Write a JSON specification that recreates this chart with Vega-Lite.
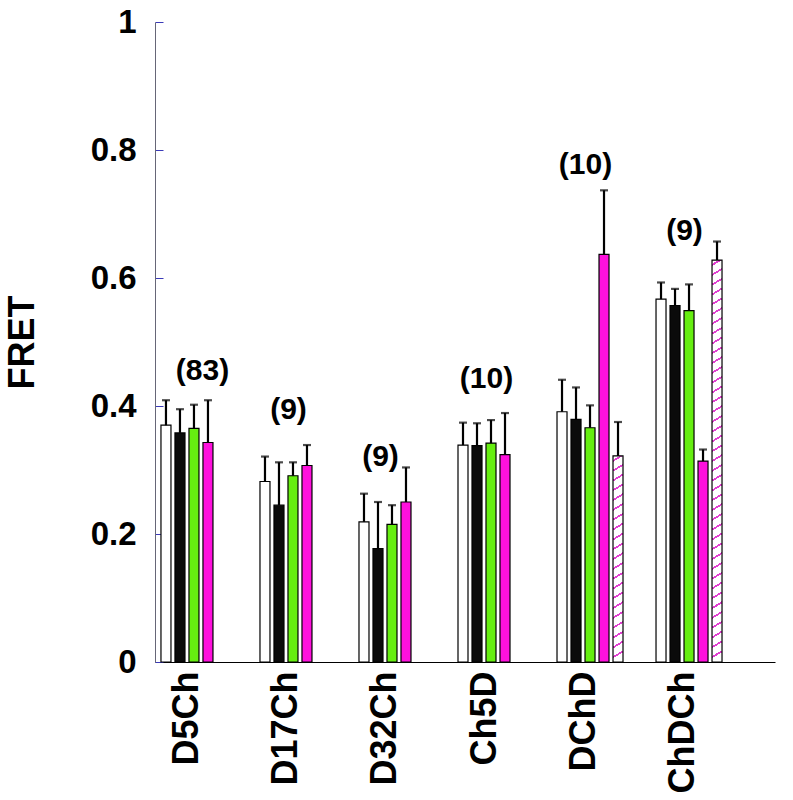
{
  "$schema": "https://vega.github.io/schema/vega-lite/v6.json",
  "width": 620,
  "height": 640,
  "autosize": {"type": "none"},
  "padding": {"left": 155, "top": 22, "right": 18, "bottom": 138},
  "background": "#ffffff",
  "config": {"view": {"stroke": null}, "font": "Liberation Sans"},
  "datasets": {
    "bars": [
      {"construct": "D5Ch", "series": "s1", "fret": 0.370, "upper": 0.409},
      {"construct": "D5Ch", "series": "s2", "fret": 0.358, "upper": 0.395},
      {"construct": "D5Ch", "series": "s3", "fret": 0.365, "upper": 0.402},
      {"construct": "D5Ch", "series": "s4", "fret": 0.343, "upper": 0.409},
      {"construct": "D17Ch", "series": "s1", "fret": 0.282, "upper": 0.321},
      {"construct": "D17Ch", "series": "s2", "fret": 0.245, "upper": 0.312},
      {"construct": "D17Ch", "series": "s3", "fret": 0.291, "upper": 0.312},
      {"construct": "D17Ch", "series": "s4", "fret": 0.307, "upper": 0.339},
      {"construct": "D32Ch", "series": "s1", "fret": 0.219, "upper": 0.263},
      {"construct": "D32Ch", "series": "s2", "fret": 0.177, "upper": 0.250},
      {"construct": "D32Ch", "series": "s3", "fret": 0.215, "upper": 0.245},
      {"construct": "D32Ch", "series": "s4", "fret": 0.250, "upper": 0.304},
      {"construct": "Ch5D", "series": "s1", "fret": 0.339, "upper": 0.374},
      {"construct": "Ch5D", "series": "s2", "fret": 0.338, "upper": 0.373},
      {"construct": "Ch5D", "series": "s3", "fret": 0.342, "upper": 0.378},
      {"construct": "Ch5D", "series": "s4", "fret": 0.324, "upper": 0.389},
      {"construct": "DChD", "series": "s1", "fret": 0.391, "upper": 0.441},
      {"construct": "DChD", "series": "s2", "fret": 0.379, "upper": 0.429},
      {"construct": "DChD", "series": "s3", "fret": 0.366, "upper": 0.401},
      {"construct": "DChD", "series": "s4", "fret": 0.637, "upper": 0.737},
      {"construct": "DChD", "series": "s5", "fret": 0.322, "upper": 0.375},
      {"construct": "ChDCh", "series": "s1", "fret": 0.567, "upper": 0.593},
      {"construct": "ChDCh", "series": "s2", "fret": 0.557, "upper": 0.583},
      {"construct": "ChDCh", "series": "s3", "fret": 0.549, "upper": 0.590},
      {"construct": "ChDCh", "series": "s4", "fret": 0.314, "upper": 0.332},
      {"construct": "ChDCh", "series": "s5", "fret": 0.628, "upper": 0.657}
    ],
    "counts": [
      {"construct": "D5Ch", "label": "(83)", "ypos": 0.455},
      {"construct": "D17Ch", "label": "(9)", "ypos": 0.394},
      {"construct": "D32Ch", "label": "(9)", "ypos": 0.320},
      {"construct": "Ch5D", "label": "(10)", "ypos": 0.442},
      {"construct": "DChD", "label": "(10)", "ypos": 0.777},
      {"construct": "ChDCh", "label": "(9)", "ypos": 0.673}
    ]
  },
  "encoding": {
    "x": {
      "field": "construct", "type": "nominal",
      "sort": ["D5Ch", "D17Ch", "D32Ch", "Ch5D", "DChD", "ChDCh"],
      "scale": {"domain": ["D5Ch", "D17Ch", "D32Ch", "Ch5D", "DChD", "ChDCh"], "paddingInner": 0, "paddingOuter": 0.131},
      "axis": {
        "title": null, "ticks": false, "labelAngle": -90, "labelFont": "Liberation Sans",
        "labelFontSize": 36, "labelFontWeight": "bold", "labelColor": "#000000",
        "labelPadding": 9, "labelOffset": -30, "domainColor": "#000000", "domainWidth": 1, "labelLimit": 0
      }
    }
  },
  "layer": [
    {
      "data": {"name": "bars"},
      "transform": [{"filter": "datum.series != 's5'"}],
      "mark": {"type": "bar", "stroke": "#000000", "strokeWidth": 1.2},
      "encoding": {
        "xOffset": {"field": "series", "type": "nominal", "scale": {"domain": ["s1", "s2", "s3", "s4", "s5"], "range": [-7, 59], "paddingInner": 0.2857, "paddingOuter": 0}},
        "y": {
          "field": "fret", "type": "quantitative",
          "scale": {"domain": [0, 1], "nice": false},
          "axis": {
            "values": [0, 0.2, 0.4, 0.6, 0.8, 1], "format": "~g", "grid": false,
            "tickSize": -8, "tickColor": "#3a3ab8", "tickWidth": 1,
            "domainColor": "#666677", "domainWidth": 1,
            "labelFont": "Liberation Sans", "labelFontSize": 33, "labelFontWeight": "bold", "labelColor": "#000000",
            "labelPadding": 27,
            "title": "FRET", "titleFont": "Liberation Sans", "titleFontSize": 36, "titleFontWeight": "bold", "titleColor": "#000000",
            "titlePadding": 49
          }
        },
        "fill": {"field": "series", "type": "nominal", "scale": {"domain": ["s1", "s2", "s3", "s4", "s5"], "range": ["#ffffff", "#0b0b0b", "#66ee11", "#ff11dd", "#ffffff"]}, "legend": null}
      }
    },
    {
      "data": {"name": "bars"},
      "transform": [{"filter": "datum.series == 's5' && datum.construct == 'DChD'"}],
      "mark": {"type": "bar", "stroke": "#000000", "strokeWidth": 1.2,
        "fill": {"gradient": "linear", "x1": 0, "y1": 0, "x2": 0.0291, "y2": 1, "stops": [
          {"offset": 0, "color": "#ffffff"},
          {"offset": 0.0190, "color": "#ffffff"}, {"offset": 0.0190, "color": "#e040d0"}, {"offset": 0.0286, "color": "#e040d0"}, {"offset": 0.0286, "color": "#ffffff"},
          {"offset": 0.0666, "color": "#ffffff"}, {"offset": 0.0666, "color": "#e040d0"}, {"offset": 0.0762, "color": "#e040d0"}, {"offset": 0.0762, "color": "#ffffff"},
          {"offset": 0.1142, "color": "#ffffff"}, {"offset": 0.1142, "color": "#e040d0"}, {"offset": 0.1238, "color": "#e040d0"}, {"offset": 0.1238, "color": "#ffffff"},
          {"offset": 0.1619, "color": "#ffffff"}, {"offset": 0.1619, "color": "#e040d0"}, {"offset": 0.1715, "color": "#e040d0"}, {"offset": 0.1715, "color": "#ffffff"},
          {"offset": 0.2095, "color": "#ffffff"}, {"offset": 0.2095, "color": "#e040d0"}, {"offset": 0.2191, "color": "#e040d0"}, {"offset": 0.2191, "color": "#ffffff"},
          {"offset": 0.2571, "color": "#ffffff"}, {"offset": 0.2571, "color": "#e040d0"}, {"offset": 0.2667, "color": "#e040d0"}, {"offset": 0.2667, "color": "#ffffff"},
          {"offset": 0.3047, "color": "#ffffff"}, {"offset": 0.3047, "color": "#e040d0"}, {"offset": 0.3143, "color": "#e040d0"}, {"offset": 0.3143, "color": "#ffffff"},
          {"offset": 0.3523, "color": "#ffffff"}, {"offset": 0.3523, "color": "#e040d0"}, {"offset": 0.3619, "color": "#e040d0"}, {"offset": 0.3619, "color": "#ffffff"},
          {"offset": 0.4000, "color": "#ffffff"}, {"offset": 0.4000, "color": "#e040d0"}, {"offset": 0.4096, "color": "#e040d0"}, {"offset": 0.4096, "color": "#ffffff"},
          {"offset": 0.4476, "color": "#ffffff"}, {"offset": 0.4476, "color": "#e040d0"}, {"offset": 0.4572, "color": "#e040d0"}, {"offset": 0.4572, "color": "#ffffff"},
          {"offset": 0.4952, "color": "#ffffff"}, {"offset": 0.4952, "color": "#e040d0"}, {"offset": 0.5048, "color": "#e040d0"}, {"offset": 0.5048, "color": "#ffffff"},
          {"offset": 0.5428, "color": "#ffffff"}, {"offset": 0.5428, "color": "#e040d0"}, {"offset": 0.5524, "color": "#e040d0"}, {"offset": 0.5524, "color": "#ffffff"},
          {"offset": 0.5904, "color": "#ffffff"}, {"offset": 0.5904, "color": "#e040d0"}, {"offset": 0.6000, "color": "#e040d0"}, {"offset": 0.6000, "color": "#ffffff"},
          {"offset": 0.6381, "color": "#ffffff"}, {"offset": 0.6381, "color": "#e040d0"}, {"offset": 0.6477, "color": "#e040d0"}, {"offset": 0.6477, "color": "#ffffff"},
          {"offset": 0.6857, "color": "#ffffff"}, {"offset": 0.6857, "color": "#e040d0"}, {"offset": 0.6953, "color": "#e040d0"}, {"offset": 0.6953, "color": "#ffffff"},
          {"offset": 0.7333, "color": "#ffffff"}, {"offset": 0.7333, "color": "#e040d0"}, {"offset": 0.7429, "color": "#e040d0"}, {"offset": 0.7429, "color": "#ffffff"},
          {"offset": 0.7809, "color": "#ffffff"}, {"offset": 0.7809, "color": "#e040d0"}, {"offset": 0.7905, "color": "#e040d0"}, {"offset": 0.7905, "color": "#ffffff"},
          {"offset": 0.8285, "color": "#ffffff"}, {"offset": 0.8285, "color": "#e040d0"}, {"offset": 0.8381, "color": "#e040d0"}, {"offset": 0.8381, "color": "#ffffff"},
          {"offset": 0.8762, "color": "#ffffff"}, {"offset": 0.8762, "color": "#e040d0"}, {"offset": 0.8858, "color": "#e040d0"}, {"offset": 0.8858, "color": "#ffffff"},
          {"offset": 0.9238, "color": "#ffffff"}, {"offset": 0.9238, "color": "#e040d0"}, {"offset": 0.9334, "color": "#e040d0"}, {"offset": 0.9334, "color": "#ffffff"},
          {"offset": 0.9714, "color": "#ffffff"}, {"offset": 0.9714, "color": "#e040d0"}, {"offset": 0.9810, "color": "#e040d0"}, {"offset": 0.9810, "color": "#ffffff"},
          {"offset": 1, "color": "#ffffff"}
        ]}
      },
      "encoding": {
        "xOffset": {"field": "series", "type": "nominal"},
        "y": {"field": "fret", "type": "quantitative"}
      }
    },
    {
      "data": {"name": "bars"},
      "transform": [{"filter": "datum.series == 's5' && datum.construct == 'ChDCh'"}],
      "mark": {"type": "bar", "stroke": "#000000", "strokeWidth": 1.2,
        "fill": {"gradient": "linear", "x1": 0, "y1": 0, "x2": 0.0149, "y2": 1, "stops": [
          {"offset": 0, "color": "#ffffff"},
          {"offset": 0.0097, "color": "#ffffff"}, {"offset": 0.0097, "color": "#e040d0"}, {"offset": 0.0147, "color": "#e040d0"}, {"offset": 0.0147, "color": "#ffffff"},
          {"offset": 0.0341, "color": "#ffffff"}, {"offset": 0.0341, "color": "#e040d0"}, {"offset": 0.0391, "color": "#e040d0"}, {"offset": 0.0391, "color": "#ffffff"},
          {"offset": 0.0585, "color": "#ffffff"}, {"offset": 0.0585, "color": "#e040d0"}, {"offset": 0.0635, "color": "#e040d0"}, {"offset": 0.0635, "color": "#ffffff"},
          {"offset": 0.0829, "color": "#ffffff"}, {"offset": 0.0829, "color": "#e040d0"}, {"offset": 0.0879, "color": "#e040d0"}, {"offset": 0.0879, "color": "#ffffff"},
          {"offset": 0.1073, "color": "#ffffff"}, {"offset": 0.1073, "color": "#e040d0"}, {"offset": 0.1123, "color": "#e040d0"}, {"offset": 0.1123, "color": "#ffffff"},
          {"offset": 0.1317, "color": "#ffffff"}, {"offset": 0.1317, "color": "#e040d0"}, {"offset": 0.1367, "color": "#e040d0"}, {"offset": 0.1367, "color": "#ffffff"},
          {"offset": 0.1560, "color": "#ffffff"}, {"offset": 0.1560, "color": "#e040d0"}, {"offset": 0.1610, "color": "#e040d0"}, {"offset": 0.1610, "color": "#ffffff"},
          {"offset": 0.1804, "color": "#ffffff"}, {"offset": 0.1804, "color": "#e040d0"}, {"offset": 0.1854, "color": "#e040d0"}, {"offset": 0.1854, "color": "#ffffff"},
          {"offset": 0.2048, "color": "#ffffff"}, {"offset": 0.2048, "color": "#e040d0"}, {"offset": 0.2098, "color": "#e040d0"}, {"offset": 0.2098, "color": "#ffffff"},
          {"offset": 0.2292, "color": "#ffffff"}, {"offset": 0.2292, "color": "#e040d0"}, {"offset": 0.2342, "color": "#e040d0"}, {"offset": 0.2342, "color": "#ffffff"},
          {"offset": 0.2536, "color": "#ffffff"}, {"offset": 0.2536, "color": "#e040d0"}, {"offset": 0.2586, "color": "#e040d0"}, {"offset": 0.2586, "color": "#ffffff"},
          {"offset": 0.2780, "color": "#ffffff"}, {"offset": 0.2780, "color": "#e040d0"}, {"offset": 0.2830, "color": "#e040d0"}, {"offset": 0.2830, "color": "#ffffff"},
          {"offset": 0.3024, "color": "#ffffff"}, {"offset": 0.3024, "color": "#e040d0"}, {"offset": 0.3074, "color": "#e040d0"}, {"offset": 0.3074, "color": "#ffffff"},
          {"offset": 0.3268, "color": "#ffffff"}, {"offset": 0.3268, "color": "#e040d0"}, {"offset": 0.3318, "color": "#e040d0"}, {"offset": 0.3318, "color": "#ffffff"},
          {"offset": 0.3512, "color": "#ffffff"}, {"offset": 0.3512, "color": "#e040d0"}, {"offset": 0.3562, "color": "#e040d0"}, {"offset": 0.3562, "color": "#ffffff"},
          {"offset": 0.3756, "color": "#ffffff"}, {"offset": 0.3756, "color": "#e040d0"}, {"offset": 0.3806, "color": "#e040d0"}, {"offset": 0.3806, "color": "#ffffff"},
          {"offset": 0.3999, "color": "#ffffff"}, {"offset": 0.3999, "color": "#e040d0"}, {"offset": 0.4049, "color": "#e040d0"}, {"offset": 0.4049, "color": "#ffffff"},
          {"offset": 0.4243, "color": "#ffffff"}, {"offset": 0.4243, "color": "#e040d0"}, {"offset": 0.4293, "color": "#e040d0"}, {"offset": 0.4293, "color": "#ffffff"},
          {"offset": 0.4487, "color": "#ffffff"}, {"offset": 0.4487, "color": "#e040d0"}, {"offset": 0.4537, "color": "#e040d0"}, {"offset": 0.4537, "color": "#ffffff"},
          {"offset": 0.4731, "color": "#ffffff"}, {"offset": 0.4731, "color": "#e040d0"}, {"offset": 0.4781, "color": "#e040d0"}, {"offset": 0.4781, "color": "#ffffff"},
          {"offset": 0.4975, "color": "#ffffff"}, {"offset": 0.4975, "color": "#e040d0"}, {"offset": 0.5025, "color": "#e040d0"}, {"offset": 0.5025, "color": "#ffffff"},
          {"offset": 0.5219, "color": "#ffffff"}, {"offset": 0.5219, "color": "#e040d0"}, {"offset": 0.5269, "color": "#e040d0"}, {"offset": 0.5269, "color": "#ffffff"},
          {"offset": 0.5463, "color": "#ffffff"}, {"offset": 0.5463, "color": "#e040d0"}, {"offset": 0.5513, "color": "#e040d0"}, {"offset": 0.5513, "color": "#ffffff"},
          {"offset": 0.5707, "color": "#ffffff"}, {"offset": 0.5707, "color": "#e040d0"}, {"offset": 0.5757, "color": "#e040d0"}, {"offset": 0.5757, "color": "#ffffff"},
          {"offset": 0.5951, "color": "#ffffff"}, {"offset": 0.5951, "color": "#e040d0"}, {"offset": 0.6001, "color": "#e040d0"}, {"offset": 0.6001, "color": "#ffffff"},
          {"offset": 0.6195, "color": "#ffffff"}, {"offset": 0.6195, "color": "#e040d0"}, {"offset": 0.6245, "color": "#e040d0"}, {"offset": 0.6245, "color": "#ffffff"},
          {"offset": 0.6438, "color": "#ffffff"}, {"offset": 0.6438, "color": "#e040d0"}, {"offset": 0.6488, "color": "#e040d0"}, {"offset": 0.6488, "color": "#ffffff"},
          {"offset": 0.6682, "color": "#ffffff"}, {"offset": 0.6682, "color": "#e040d0"}, {"offset": 0.6732, "color": "#e040d0"}, {"offset": 0.6732, "color": "#ffffff"},
          {"offset": 0.6926, "color": "#ffffff"}, {"offset": 0.6926, "color": "#e040d0"}, {"offset": 0.6976, "color": "#e040d0"}, {"offset": 0.6976, "color": "#ffffff"},
          {"offset": 0.7170, "color": "#ffffff"}, {"offset": 0.7170, "color": "#e040d0"}, {"offset": 0.7220, "color": "#e040d0"}, {"offset": 0.7220, "color": "#ffffff"},
          {"offset": 0.7414, "color": "#ffffff"}, {"offset": 0.7414, "color": "#e040d0"}, {"offset": 0.7464, "color": "#e040d0"}, {"offset": 0.7464, "color": "#ffffff"},
          {"offset": 0.7658, "color": "#ffffff"}, {"offset": 0.7658, "color": "#e040d0"}, {"offset": 0.7708, "color": "#e040d0"}, {"offset": 0.7708, "color": "#ffffff"},
          {"offset": 0.7902, "color": "#ffffff"}, {"offset": 0.7902, "color": "#e040d0"}, {"offset": 0.7952, "color": "#e040d0"}, {"offset": 0.7952, "color": "#ffffff"},
          {"offset": 0.8146, "color": "#ffffff"}, {"offset": 0.8146, "color": "#e040d0"}, {"offset": 0.8196, "color": "#e040d0"}, {"offset": 0.8196, "color": "#ffffff"},
          {"offset": 0.8390, "color": "#ffffff"}, {"offset": 0.8390, "color": "#e040d0"}, {"offset": 0.8440, "color": "#e040d0"}, {"offset": 0.8440, "color": "#ffffff"},
          {"offset": 0.8634, "color": "#ffffff"}, {"offset": 0.8634, "color": "#e040d0"}, {"offset": 0.8684, "color": "#e040d0"}, {"offset": 0.8684, "color": "#ffffff"},
          {"offset": 0.8877, "color": "#ffffff"}, {"offset": 0.8877, "color": "#e040d0"}, {"offset": 0.8927, "color": "#e040d0"}, {"offset": 0.8927, "color": "#ffffff"},
          {"offset": 0.9121, "color": "#ffffff"}, {"offset": 0.9121, "color": "#e040d0"}, {"offset": 0.9171, "color": "#e040d0"}, {"offset": 0.9171, "color": "#ffffff"},
          {"offset": 0.9365, "color": "#ffffff"}, {"offset": 0.9365, "color": "#e040d0"}, {"offset": 0.9415, "color": "#e040d0"}, {"offset": 0.9415, "color": "#ffffff"},
          {"offset": 0.9609, "color": "#ffffff"}, {"offset": 0.9609, "color": "#e040d0"}, {"offset": 0.9659, "color": "#e040d0"}, {"offset": 0.9659, "color": "#ffffff"},
          {"offset": 0.9853, "color": "#ffffff"}, {"offset": 0.9853, "color": "#e040d0"}, {"offset": 0.9903, "color": "#e040d0"}, {"offset": 0.9903, "color": "#ffffff"},
          {"offset": 1, "color": "#ffffff"}
        ]}
      },
      "encoding": {
        "xOffset": {"field": "series", "type": "nominal"},
        "y": {"field": "fret", "type": "quantitative"}
      }
    },
    {
      "data": {"name": "bars"},
      "mark": {"type": "rule", "color": "#000000", "strokeWidth": 2.2},
      "encoding": {
        "xOffset": {"field": "series", "type": "nominal"},
        "y": {"field": "fret", "type": "quantitative"},
        "y2": {"field": "upper"}
      }
    },
    {
      "data": {"name": "bars"},
      "mark": {"type": "tick", "color": "#000000", "size": 8, "thickness": 2.2, "orient": "horizontal"},
      "encoding": {
        "xOffset": {"field": "series", "type": "nominal"},
        "y": {"field": "upper", "type": "quantitative"}
      }
    },
    {
      "data": {"name": "counts"},
      "transform": [{"filter": "datum.construct == 'D5Ch'"}],
      "mark": {"type": "text", "font": "Liberation Sans", "fontSize": 30, "fontWeight": "bold", "color": "#000000", "align": "center", "baseline": "middle", "dx": -15},
      "encoding": {
        "y": {"field": "ypos", "type": "quantitative"},
        "text": {"field": "label"}
      }
    },
    {
      "data": {"name": "counts"},
      "transform": [{"filter": "datum.construct == 'D32Ch'"}],
      "mark": {"type": "text", "font": "Liberation Sans", "fontSize": 30, "fontWeight": "bold", "color": "#000000", "align": "center", "baseline": "middle", "dx": -35},
      "encoding": {
        "y": {"field": "ypos", "type": "quantitative"},
        "text": {"field": "label"}
      }
    },
    {
      "data": {"name": "counts"},
      "transform": [{"filter": "datum.construct != 'D5Ch' && datum.construct != 'D32Ch'"}],
      "mark": {"type": "text", "font": "Liberation Sans", "fontSize": 30, "fontWeight": "bold", "color": "#000000", "align": "center", "baseline": "middle", "dx": -28},
      "encoding": {
        "y": {"field": "ypos", "type": "quantitative"},
        "text": {"field": "label"}
      }
    }
  ]
}
